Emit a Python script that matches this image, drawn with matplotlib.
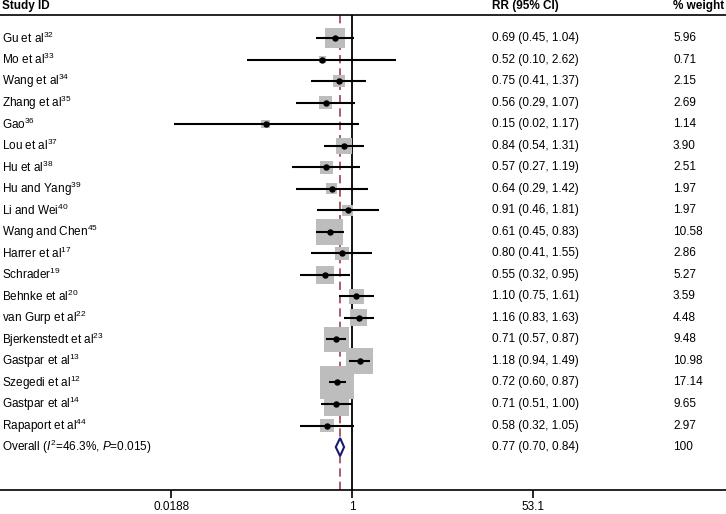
import matplotlib
matplotlib.use("Agg")
import matplotlib.pyplot as plt
import matplotlib.transforms as mtransforms
import numpy as np

plt.rcParams['font.family'] = ['Liberation Sans', 'DejaVu Sans']
plt.rcParams['mathtext.fontset'] = 'custom'
plt.rcParams['mathtext.rm'] = 'Liberation Sans'
plt.rcParams['mathtext.it'] = 'Liberation Sans:italic'
plt.rcParams['mathtext.bf'] = 'Liberation Sans:bold'

studies = ["Gu et al", "Mo et al", "Wang et al", "Zhang et al", "Gao", "Lou et al",
           "Hu et al", "Hu and Yang", "Li and Wei", "Wang and Chen", "Harrer et al",
           "Schrader", "Behnke et al", "van Gurp et al", "Bjerkenstedt et al",
           "Gastpar et al", "Szegedi et al", "Gastpar et al", "Rapaport et al"]
refs = ["32", "33", "34", "35", "36", "37", "38", "39", "40", "45", "17", "19",
        "20", "22", "23", "13", "12", "14", "44"]
rr = [0.69, 0.52, 0.75, 0.56, 0.15, 0.84, 0.57, 0.64, 0.91, 0.61, 0.80, 0.55,
      1.10, 1.16, 0.71, 1.18, 0.72, 0.71, 0.58]
lo = [0.45, 0.10, 0.41, 0.29, 0.02, 0.54, 0.27, 0.29, 0.46, 0.45, 0.41, 0.32,
      0.75, 0.83, 0.57, 0.94, 0.60, 0.51, 0.32]
hi = [1.04, 2.62, 1.37, 1.07, 1.17, 1.31, 1.19, 1.42, 1.81, 0.83, 1.55, 0.95,
      1.61, 1.63, 0.87, 1.49, 0.87, 1.00, 1.05]
weights = [5.96, 0.71, 2.15, 2.69, 1.14, 3.90, 2.51, 1.97, 1.97, 10.58, 2.86, 5.27,
           3.59, 4.48, 9.48, 10.98, 17.14, 9.65, 2.97]
overall_rr, overall_lo, overall_hi = 0.77, 0.70, 0.84
overall_label = "Overall ($I^2$=46.3%, $P$=0.015)"
xticks = [0.0188, 1, 53.1]
xticklabels = ["0.0188", "1", "53.1"]

W, H = 726, 514
fig = plt.figure(figsize=(W / 100, H / 100), dpi=100)
top_px, bot_px = 15, 490
ax = fig.add_axes([0, 1 - bot_px / H, 1, (bot_px - top_px) / H])
ax.set_xscale('log')
# x: 1 at px 352, 45.5 px per ln unit
ppl = 45.5
ax.set_xlim(np.exp(-352 / ppl), np.exp((W - 352) / ppl))
row_px = 21.53
first_px = 38
ax.set_ylim(len(studies) + (bot_px - (first_px + row_px * len(studies))) / row_px,
            -(first_px - top_px) / row_px)

for s in ['left', 'right']:
    ax.spines[s].set_visible(False)
ax.spines['top'].set_linewidth(1.2)
ax.spines['bottom'].set_linewidth(1.2)
ax.set_yticks([])
ax.set_xticks(xticks)
ax.set_xticklabels(xticklabels, fontsize=8.5)
ax.xaxis.set_minor_locator(matplotlib.ticker.NullLocator())
ax.tick_params(axis='x', direction='out', length=6, width=1.2, pad=2)

n = len(studies)
ys = np.arange(n)

# reference lines
ax.axvline(1, color='black', lw=1.3, zorder=1)
ax.axvline(overall_rr, color='#a0404f', lw=1.2, ls=(0, (5, 3)), zorder=1)

# weight boxes: side = 8*sqrt(w) px
sides_pt = 8 * np.sqrt(np.array(weights)) * 72 / 100
ax.scatter(rr, ys, s=sides_pt ** 2, marker='s', color='#bdbdbd', zorder=2, linewidths=0)
ax.hlines(ys, lo, hi, color='black', lw=1.5, zorder=3)
ax.plot(rr, ys, 'o', color='black', ms=3.6, zorder=4)

# overall diamond
yo = n
hh = 0.42
ax.fill([overall_lo, overall_rr, overall_hi, overall_rr],
        [yo, yo - hh, yo, yo + hh], facecolor='white', edgecolor='#1a1a6e', lw=1.5, zorder=4)

trans = mtransforms.blended_transform_factory(fig.transFigure, ax.transData)
x_name, x_rr, x_w = 2 / W, 492 / W, 673 / W
fs = 8.5
for i in range(n):
    ax.text(x_name, i, f"{studies[i]}$^{{{refs[i]}}}$", transform=trans, fontsize=fs,
            va='center', ha='left')
    ax.text(x_rr, i, f"{rr[i]:.2f} ({lo[i]:.2f}, {hi[i]:.2f})", transform=trans,
            fontsize=fs, va='center', ha='left')
    ax.text(x_w, i, f"{weights[i]:.2f}", transform=trans, fontsize=fs, va='center', ha='left')
ax.text(x_name, n, overall_label, transform=trans, fontsize=fs, va='center', ha='left')
ax.text(x_rr, n, f"{overall_rr:.2f} ({overall_lo:.2f}, {overall_hi:.2f})", transform=trans,
        fontsize=fs, va='center', ha='left')
ax.text(x_w, n, "100", transform=trans, fontsize=fs, va='center', ha='left')

hy = 1 - 6 / H
fig.text(x_name, hy, "Study ID", fontsize=fs, fontweight='bold', va='center', ha='left')
fig.text(x_rr, hy, "RR (95% CI)", fontsize=fs, fontweight='bold', va='center', ha='left')
fig.text(x_w, hy, "% weight", fontsize=fs, fontweight='bold', va='center', ha='left')

fig.savefig("out.png", dpi=100)
